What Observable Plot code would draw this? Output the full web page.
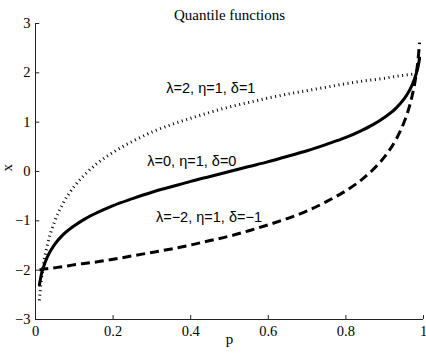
<!DOCTYPE html>
<html>
<head>
<meta charset="utf-8">
<script src="https://cdn.jsdelivr.net/npm/d3@7"></script>
<script src="https://cdn.jsdelivr.net/npm/@observablehq/plot@0.6"></script>
<style>
  html, body { margin: 0; padding: 0; background: #fff; }
  #chart { width: 426px; height: 354px; }
</style>
</head>
<body>
<div id="chart"></div>
<script>
// probability grid
const pValues = [0.01, 0.015, 0.02, 0.03, 0.04, 0.05, 0.07, 0.1, 0.13, 0.16, 0.2, 0.25, 0.3, 0.35, 0.4, 0.45, 0.5,
  0.55, 0.6, 0.65, 0.7, 0.75, 0.8, 0.84, 0.87, 0.9, 0.93, 0.95, 0.96, 0.97, 0.98, 0.985, 0.99];
// λ=0, η=1, δ=0 (solid)
const solidValues = [-2.30, -2.09, -1.95, -1.74, -1.59, -1.47, -1.29, -1.10, -0.95, -0.83, -0.69, -0.55, -0.42, -0.31, -0.20, -0.10, 0.00,
  0.10, 0.20, 0.31, 0.42, 0.55, 0.69, 0.83, 0.95, 1.10, 1.29, 1.47, 1.59, 1.74, 1.95, 2.09, 2.30];
// λ=2, η=1, δ=1 (dotted)
const dottedValues = [-2.61, -2.20, -1.91, -1.51, -1.22, -1.00, -0.66, -0.30, -0.04, 0.17, 0.39, 0.61, 0.80, 0.95, 1.08, 1.20, 1.31,
  1.40, 1.49, 1.57, 1.64, 1.71, 1.78, 1.83, 1.86, 1.89, 1.93, 1.95, 1.96, 1.97, 1.98, 1.99, 1.99];
// λ=-2, η=1, δ=-1 (dashed)
const dashedValues = [-1.99, -1.99, -1.98, -1.97, -1.96, -1.95, -1.93, -1.89, -1.86, -1.83, -1.78, -1.71, -1.64, -1.57, -1.49, -1.40, -1.31,
  -1.20, -1.08, -0.95, -0.80, -0.61, -0.39, -0.17, 0.04, 0.30, 0.66, 1.00, 1.22, 1.51, 1.91, 2.20, 2.61];

const xTicks = [0, 0.2, 0.4, 0.6, 0.8, 1];
const yTicks = [-3, -2, -1, 0, 1, 2, 3];

const curveLabels = ["λ=2, η=1, δ=1", "λ=0, η=1, δ=0", "λ=−2, η=1, δ=−1"];
const curveLabelP = [0.452, 0.403, 0.447];
const curveLabelX = [1.68, 0.20, -0.92];

const titleText = "Quantile functions";
const xLabel = "p";
const yLabel = "x";

const rows = (vals) => pValues.map((p, i) => ({p, x: vals[i]}));
const labelRows = curveLabels.map((t, i) => ({t, p: curveLabelP[i], x: curveLabelX[i]}));
const fmt = d => d < 0 ? "\u2212" + String(-d) : String(d);

const chart = Plot.plot({
  width: 426,
  height: 354,
  marginLeft: 35,
  marginRight: 3,
  marginTop: 23,
  marginBottom: 35,
  x: {domain: [0, 1]},
  y: {domain: [-3, 3]},
  style: {fontFamily: "'Liberation Serif', serif", fontSize: "14px", background: "#fff", color: "#000", overflow: "visible"},
  marks: [
    Plot.axisX({ticks: xTicks, tickSize: 0, tickPadding: 6, tickFormat: fmt, label: null, fontSize: 14.5}),
    Plot.axisY({ticks: yTicks, tickSize: 0, tickPadding: 5, tickFormat: fmt, label: null, fontSize: 14.5}),
    Plot.ruleX([0], {stroke: "#222", strokeWidth: 1}),
    Plot.ruleY([-3], {stroke: "#222", strokeWidth: 1}),
    Plot.ruleY(yTicks, {x1: 0, x2: 0.011, stroke: "#222"}),
    Plot.ruleX(xTicks, {y1: -3, y2: -2.92, stroke: "#222"}),
    Plot.line(rows(dottedValues), {x: "p", y: "x", curve: "monotone-x", stroke: "#000", strokeWidth: 3, strokeDasharray: "1,3.6", strokeLinecap: "butt"}),
    Plot.line(rows(dashedValues), {x: "p", y: "x", curve: "monotone-x", stroke: "#000", strokeWidth: 3, strokeDasharray: "9,5", strokeLinecap: "butt"}),
    Plot.line(rows(solidValues), {x: "p", y: "x", curve: "monotone-x", stroke: "#000", strokeWidth: 3}),
    Plot.text(labelRows, {x: "p", y: "x", text: "t", fontFamily: "'Liberation Sans', Arial, sans-serif", fontSize: 14.5, fill: "#000"}),
    Plot.text([titleText], {frameAnchor: "top", dy: -14, fontSize: 15, fill: "#000"}),
    Plot.text([xLabel], {frameAnchor: "bottom", dy: 24, fontSize: 15, fill: "#000"}),
    Plot.text([yLabel], {frameAnchor: "left", dx: -28, rotate: -90, fontSize: 15, fill: "#000"})
  ]
});
document.getElementById("chart").appendChild(chart);
</script>
</body>
</html>
